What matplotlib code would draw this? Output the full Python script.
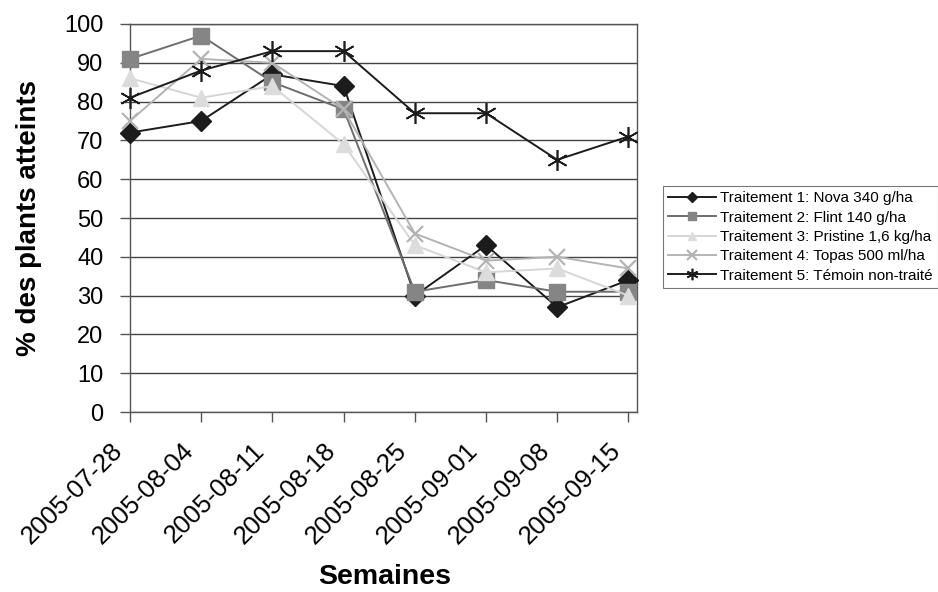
import matplotlib
matplotlib.use("Agg")
import matplotlib.pyplot as plt
from matplotlib.transforms import ScaledTranslation

plt.rcParams['font.family'] = ['Liberation Sans', 'DejaVu Sans']

weeks = ["2005-07-28", "2005-08-04", "2005-08-11", "2005-08-18",
         "2005-08-25", "2005-09-01", "2005-09-08", "2005-09-15"]
t1 = [72, 75, 87, 84, 30, 43, 27, 34]
t2 = [91, 97, 85, 78, 31, 34, 31, 31]
t3 = [86, 81, 84, 69, 43, 36, 37, 30]
t4 = [75, 91, 90, 78, 46, 39, 40, 37]
t5 = [81, 88, 93, 93, 77, 77, 65, 71]
labels = ["Traitement 1: Nova 340 g/ha",
          "Traitement 2: Flint 140 g/ha",
          "Traitement 3: Pristine 1,6 kg/ha",
          "Traitement 4: Topas 500 ml/ha",
          "Traitement 5: Témoin non-traité"]
yticks = list(range(0, 101, 10))

fig = plt.figure(figsize=(9.38, 5.92), dpi=100)
ax = fig.add_axes([0.1386, 0.304, 0.5405, 0.6555])

x = list(range(len(weeks)))
styles = [
    dict(color="#1c1c1c", marker="D", markersize=10, mfc="#1c1c1c", mec="#1c1c1c", lw=1.4),
    dict(color="#6e6e6e", marker="s", markersize=11, mfc="#858585", mec="#858585", lw=1.4),
    dict(color="#d6d6d6", marker="^", markersize=11, mfc="#dcdcdc", mec="#dcdcdc", lw=1.4),
    dict(color="#b4b4b4", marker="x", markersize=12, mfc="#b4b4b4", mec="#b4b4b4", mew=1.6, lw=1.4),
    dict(color="#1c1c1c", marker=(6, 2, 0), markersize=15, mfc="#1c1c1c", mec="#1c1c1c", mew=1.2, lw=1.4),
]
for ys, lab, st in zip([t1, t2, t3, t4, t5], labels, styles):
    ax.plot(x, ys, label=lab, **st, zorder=3, clip_on=False)

ax.set_xlim(0, 7.12)
ax.set_ylim(0, 100)
ax.set_yticks(yticks)
ax.set_xticks(x)
ax.set_xticklabels(weeks, rotation=45, ha="right", va="top",
                   rotation_mode="anchor", fontsize=18.5)
ax.tick_params(axis="y", labelsize=17, length=7, width=1, color="#555555", pad=12)
ax.tick_params(axis="x", length=7, width=1, color="#555555", pad=12)
off = ScaledTranslation(-0.20, 0, fig.dpi_scale_trans)
for lab in ax.get_xticklabels():
    lab.set_transform(lab.get_transform() + off)
ax.grid(axis="y", color="#444444", lw=1)
ax.set_axisbelow(True)
for s in ax.spines.values():
    s.set_color("#555555")
    s.set_linewidth(1)

ax.set_ylabel("% des plants atteints", fontsize=20, fontweight="bold", va="center")
ax.yaxis.set_label_coords(-0.199, 0.5)
ax.set_xlabel("Semaines", fontsize=20.5, fontweight="bold", va="center")
ax.xaxis.set_label_coords(0.503, -0.425)

leg = fig.legend(loc="upper left", bbox_to_anchor=(0.7068, 0.6858), fontsize=11,
                 frameon=True, fancybox=False, edgecolor="#555555",
                 handlelength=3.1, markerscale=0.55, borderpad=0.35,
                 labelspacing=0.35, handletextpad=0.3, borderaxespad=0)
leg.get_frame().set_linewidth(0.8)

fig.savefig("out.png", dpi=100)
